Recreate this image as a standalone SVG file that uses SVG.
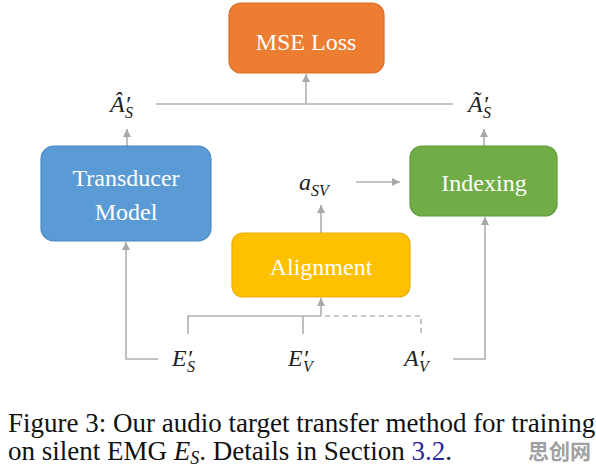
<svg xmlns="http://www.w3.org/2000/svg" width="596" height="465" viewBox="0 0 596 465">
<style>
text{font-family:'Liberation Serif','Times New Roman','DejaVu Serif',serif}
.box{stroke-width:1.2}
.bt{font-size:24px;fill:#fff;text-anchor:middle}
.m{font-style:italic;font-size:24px;fill:#222}
.sub{font-size:16px}
.c{fill:none;stroke:#b0b0b0;stroke-width:1.6}
.d{fill:none;stroke:#b8b8b8;stroke-width:1.6;stroke-dasharray:5 4}
.cap{font-size:27px;fill:#111}
</style>
<defs>
<marker id="ah" markerUnits="userSpaceOnUse" markerWidth="9" markerHeight="9" refX="8" refY="4.5" orient="auto">
<path d="M0,0.5 L8,4.5 L0,8.5 z" fill="#a8a8a8"/>
</marker>
</defs>
<rect width="596" height="465" fill="#fff"/>
<g id="connectors">
<path class="c" d="M156,104 H453"/>
<path class="c" d="M306,104 V74" marker-end="url(#ah)"/>
<path class="c" d="M127,146 V129" marker-end="url(#ah)"/>
<path class="c" d="M484,146 V129" marker-end="url(#ah)"/>
<path class="c" d="M356,182 H400" marker-end="url(#ah)"/>
<path class="c" d="M321,233 V205" marker-end="url(#ah)"/>
<path class="c" d="M188,334 V316 H321"/>
<path class="c" d="M303,334 V316"/>
<path class="c" d="M321,316 V298" marker-end="url(#ah)"/>
<path class="d" d="M325,316 H421 V334"/>
<path class="c" d="M158,359 H126 V242" marker-end="url(#ah)"/>
<path class="c" d="M453,359 H485 V217" marker-end="url(#ah)"/>
</g>
<g id="mse">
<rect class="box" x="229" y="3" width="155" height="70" rx="12" fill="#ED7D31" stroke="#d96f27"/>
<text class="bt" x="306" y="50">MSE Loss</text>
</g>
<g id="transducer">
<rect class="box" x="41" y="146" width="170" height="95" rx="13" fill="#5B9BD5" stroke="#4a88c2"/>
<text class="bt" x="126" y="186">Transducer</text>
<text class="bt" x="126" y="220">Model</text>
</g>
<g id="indexing">
<rect class="box" x="410" y="146" width="147" height="70" rx="12" fill="#70AD47" stroke="#5f9a3b"/>
<text class="bt" x="484" y="191">Indexing</text>
</g>
<g id="alignment">
<rect class="box" x="232" y="233" width="178" height="64" rx="11" fill="#FFC000" stroke="#e8ae00"/>
<text class="bt" x="321" y="275">Alignment</text>
</g>
<g id="labels">
<text class="m" x="110" y="112">Â′<tspan class="sub" dx="-5" dy="6">S</tspan></text>
<text class="m" x="468" y="112">Ã′<tspan class="sub" dx="-5" dy="6">S</tspan></text>
<text class="m" x="299" y="190">a<tspan class="sub" dy="6">SV</tspan></text>
<text class="m" x="172" y="366">E′<tspan class="sub" dx="-5" dy="6">S</tspan></text>
<text class="m" x="288" y="366">E′<tspan class="sub" dx="-5" dy="6">V</tspan></text>
<text class="m" x="404" y="366">A′<tspan class="sub" dx="-5" dy="6">V</tspan></text>
</g>
<g id="caption">
<text class="cap" x="8" y="432">Figure 3: Our audio target transfer method for training</text>
<text class="cap" x="8" y="460">on silent EMG <tspan font-style="italic">E</tspan><tspan font-style="italic" font-size="18" dy="4">S</tspan><tspan dy="-4">. Details in Section </tspan><tspan fill="#2a2a9c">3.2</tspan>.</text>
</g>
<text x="528" y="459" style="font-family:'Noto Sans CJK SC',sans-serif" font-weight="bold" font-size="21" fill="#a0a0a0">思创网</text>
</svg>
